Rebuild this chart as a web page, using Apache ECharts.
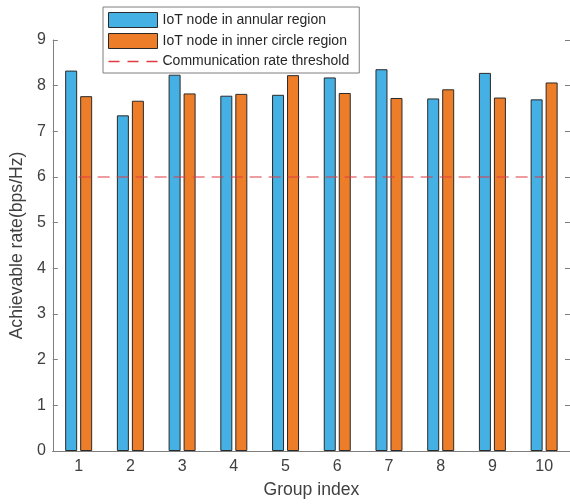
<!DOCTYPE html>
<html>
<head>
<meta charset="utf-8">
<script src="https://cdn.jsdelivr.net/npm/echarts@6/dist/echarts.min.js"></script>
<style>
  html, body { margin: 0; padding: 0; background: #fff; }
  #chart { width: 570px; height: 504px; }
</style>
</head>
<body>
<div id="chart"></div>
<script>
const categories = ['1', '2', '3', '4', '5', '6', '7', '8', '9', '10'];
const annularValues = [8.33, 7.35, 8.24, 7.78, 7.80, 8.18, 8.36, 7.72, 8.28, 7.70];
const innerValues = [7.77, 7.67, 7.83, 7.82, 8.23, 7.84, 7.73, 7.92, 7.74, 8.07];
const thresholdValues = [6, 6, 6, 6, 6, 6, 6, 6, 6, 6];
const yTicks = [0, 1, 2, 3, 4, 5, 6, 7, 8, 9];
const seriesNames = ['IoT node in annular region', 'IoT node in inner circle region', 'Communication rate threshold'];

const font = 'Liberation Sans, Arial, Helvetica, sans-serif';
const axisColor = '#7f7f7f';
const labelColor = '#404040';
const blue = '#45B0E3';
const orange = '#EE7D2A';
const red = '#E03A42';

const chart = echarts.init(document.getElementById('chart'), null, { renderer: 'canvas' });
chart.setOption({
  animation: false,
  backgroundColor: '#ffffff',
  grid: { left: 50, top: 40, width: 522, height: 411 },
  legend: {
    orient: 'vertical',
    left: 103,
    top: 7,
    padding: [5, 10, 4, 5],
    itemWidth: 49,
    itemHeight: 15,
    itemGap: 5,
    backgroundColor: '#ffffff',
    borderColor: '#7f7f7f',
    borderWidth: 1,
    borderRadius: 0,
    textStyle: { fontFamily: font, fontSize: 14, lineHeight: 15, color: '#262626' },
    data: [
      { name: seriesNames[0], icon: 'rect', itemStyle: { color: blue, borderColor: '#2a2a2a', borderWidth: 1 } },
      { name: seriesNames[1], icon: 'rect', itemStyle: { color: orange, borderColor: '#2a2a2a', borderWidth: 1 } },
      { name: seriesNames[2], icon: 'path://M0,0h11v1.3h-11z M19,0h11v1.3h-11z M38,0h11v1.3h-11z',
        itemStyle: { color: red, borderWidth: 0 } }
    ]
  },
  xAxis: [
    {
      type: 'category',
      data: categories,
      position: 'bottom',
      name: 'Group index',
      nameLocation: 'middle',
      nameGap: 30,
      nameTextStyle: { fontFamily: font, fontSize: 17.6, color: labelColor },
      axisLine: { lineStyle: { color: axisColor, width: 1 } },
      axisTick: { inside: true, alignWithLabel: true, length: 5, lineStyle: { color: axisColor } },
      axisLabel: { fontFamily: font, fontSize: 16, color: labelColor, margin: 8 },
      axisPointer: { show: false },
      z: 1
    },
    {
      type: 'category',
      data: categories,
      position: 'top',
      axisLine: { lineStyle: { color: axisColor, width: 1 } },
      axisTick: { inside: true, alignWithLabel: true, length: 5, lineStyle: { color: axisColor } },
      axisLabel: { show: false }
    }
  ],
  yAxis: [
    {
      type: 'value',
      min: yTicks[0],
      max: yTicks[yTicks.length - 1],
      interval: 1,
      name: 'Achievable rate(bps/Hz)',
      nameLocation: 'middle',
      nameGap: 21,
      nameTextStyle: { fontFamily: font, fontSize: 17.6, color: labelColor },
      axisLine: { show: true, lineStyle: { color: axisColor, width: 1 } },
      axisTick: { show: true, inside: true, length: 5, lineStyle: { color: axisColor } },
      axisLabel: { fontFamily: font, fontSize: 16, color: labelColor, margin: 7 },
      splitLine: { show: false }
    },
    {
      type: 'value',
      position: 'right',
      min: yTicks[0],
      max: yTicks[yTicks.length - 1],
      interval: 1,
      axisLine: { show: true, lineStyle: { color: axisColor, width: 1 } },
      axisTick: { show: true, inside: true, length: 5, lineStyle: { color: axisColor } },
      axisLabel: { show: false },
      splitLine: { show: false }
    }
  ],
  series: [
    {
      name: seriesNames[0],
      type: 'bar',
      data: annularValues,
      barWidth: 12,
      barGap: '25%',
      itemStyle: { color: blue, borderColor: '#2a2a2a', borderWidth: 1 },
      z: 2
    },
    {
      name: seriesNames[1],
      type: 'bar',
      data: innerValues,
      barWidth: 12,
      barGap: '25%',
      itemStyle: { color: orange, borderColor: '#2a2a2a', borderWidth: 1 },
      z: 2
    },
    {
      name: seriesNames[2],
      type: 'line',
      data: thresholdValues,
      color: red,
      symbol: 'none',
      showSymbol: false,
      itemStyle: { color: red },
      lineStyle: { color: red, type: [12, 7], width: 1.2 },
      emphasis: { disabled: true },
      z: 5
    }
  ]
});
</script>
</body>
</html>
